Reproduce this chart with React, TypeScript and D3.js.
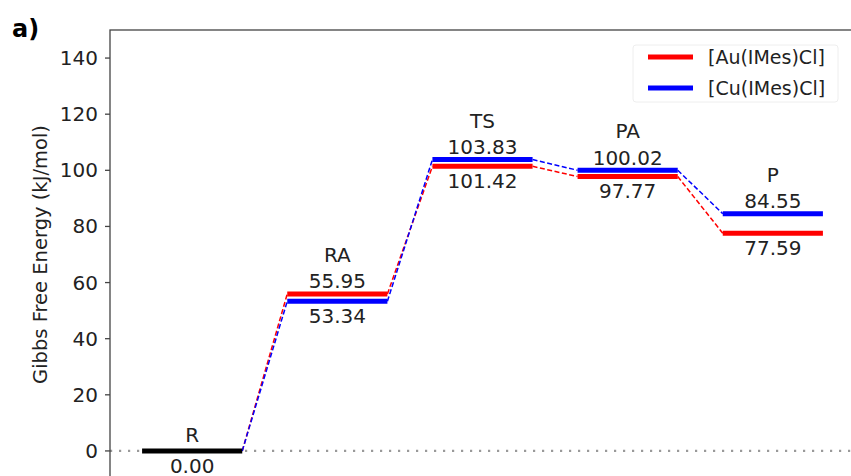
import React from "react";
import * as d3 from "d3";

const states = ["R", "RA", "TS", "PA", "P"];
const auValues = [0, 55.95, 101.42, 97.77, 77.59];
const cuValues = [0, 53.34, 103.83, 100.02, 84.55];
const yTicks = [0, 20, 40, 60, 80, 100, 120, 140];
const seriesNames = ["[Au(IMes)Cl]", "[Cu(IMes)Cl]"];
const seriesColors = ["#ff0000", "#0000ff"];

const W = 851;
const H = 476;
const FONT = "'DejaVu Sans', Verdana, sans-serif";

export default function App() {
  const left = 110, right = 855, top = 30, bottom = 479;
  const x = d3.scaleLinear().domain([-0.566, 4.566]).range([left, right]);
  const y = d3.scaleLinear().domain([-10, 150]).range([bottom, top]);
  const hw = 0.345;
  const series = [auValues, cuValues];

  const connectors: JSX.Element[] = [];
  series.forEach((vals, s) => {
    for (let i = 0; i < vals.length - 1; i++) {
      connectors.push(
        <line key={`c${s}-${i}`} x1={x(i + hw)} y1={y(vals[i])} x2={x(i + 1 - hw)} y2={y(vals[i + 1])}
          stroke={seriesColors[s]} strokeWidth={1.5} strokeDasharray="5,2.5" />
      );
    }
  });

  const levels: JSX.Element[] = [];
  const labels: JSX.Element[] = [];
  states.forEach((st, i) => {
    const a = auValues[i], c = cuValues[i];
    if (i === 0) {
      levels.push(<line key="lvl0" x1={x(i - hw)} x2={x(i + hw)} y1={y(a)} y2={y(a)} stroke="#000" strokeWidth={5} />);
      labels.push(<text key="n0" x={x(i)} y={y(a) - 16} textAnchor="middle" dominantBaseline="central">{st}</text>);
      labels.push(<text key="v0" x={x(i)} y={y(a) + 15} textAnchor="middle" dominantBaseline="central">{a.toFixed(2)}</text>);
      return;
    }
    series.forEach((vals, s) => {
      levels.push(<line key={`l${s}-${i}`} x1={x(i - hw)} x2={x(i + hw)} y1={y(vals[i])} y2={y(vals[i])} stroke={seriesColors[s]} strokeWidth={5} />);
    });
    const hi = Math.max(a, c), lo = Math.min(a, c);
    labels.push(<text key={`n${i}`} x={x(i)} y={y(hi) - 39} textAnchor="middle" dominantBaseline="central">{st}</text>);
    labels.push(<text key={`h${i}`} x={x(i)} y={y(hi) - 12.5} textAnchor="middle" dominantBaseline="central">{hi.toFixed(2)}</text>);
    labels.push(<text key={`lo${i}`} x={x(i)} y={y(lo) + 14.5} textAnchor="middle" dominantBaseline="central">{lo.toFixed(2)}</text>);
  });

  return (
    <svg width={W} height={H} style={{ position: "absolute", left: 0, top: 0, background: "#fff" }} fontFamily={FONT}>
      <rect x={0} y={0} width={W} height={H} fill="#fff" />
      <text x={12} y={29} fontSize={24} fontWeight="bold" dominantBaseline="central" fill="#000">a)</text>
      {/* zero line */}
      <line x1={left} x2={right} y1={y(0)} y2={y(0)} stroke="#999" strokeWidth={2.2} strokeDasharray="2.2,6.8" />
      {connectors}
      {levels}
      <g fontSize={20} fill="#222">{labels}</g>
      {/* frame */}
      <rect x={left} y={top} width={right - left} height={bottom - top} fill="none" stroke="#444" strokeWidth={1.3} />
      {/* y ticks */}
      <g fontSize={20} fill="#222">
        {yTicks.map((t) => (
          <g key={t}>
            <line x1={left - 5} x2={left} y1={y(t)} y2={y(t)} stroke="#444" strokeWidth={1.3} />
            <text x={left - 12} y={y(t)} textAnchor="end" dominantBaseline="central">{t}</text>
          </g>
        ))}
      </g>
      <text transform={`translate(40,${(top + bottom) / 2}) rotate(-90)`} textAnchor="middle" dominantBaseline="central" fontSize={19.5} fill="#222">
        Gibbs Free Energy (kJ/mol)
      </text>
      {/* legend */}
      <rect x={633} y={45} width={205} height={57} rx={3} fill="#fff" fillOpacity={0.8} stroke="#eee" strokeWidth={1} />
      {seriesNames.map((n, i) => (
        <g key={n}>
          <line x1={648} x2={693} y1={57 + i * 31} y2={57 + i * 31} stroke={seriesColors[i]} strokeWidth={5} />
          <text x={708} y={57 + i * 31} dominantBaseline="central" fontSize={19} fill="#222">{n}</text>
        </g>
      ))}
    </svg>
  );
}
